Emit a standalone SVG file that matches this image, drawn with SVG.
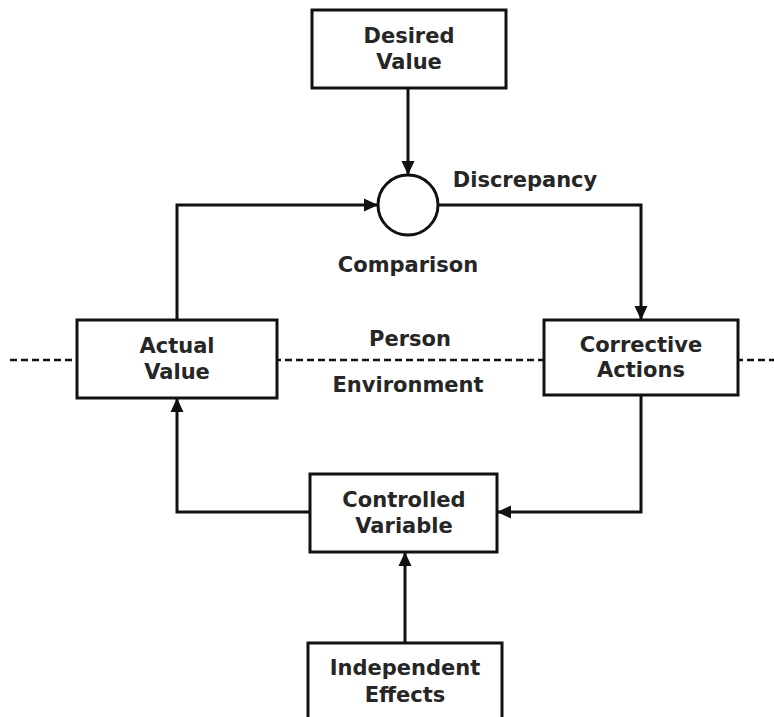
<svg xmlns="http://www.w3.org/2000/svg" width="774" height="717" viewBox="0 0 774 717">
<defs>
<marker id="ah" markerWidth="14" markerHeight="14" viewBox="0 0 14 14" refX="14" refY="7" orient="auto" markerUnits="userSpaceOnUse">
<path d="M0,0.5 L14,7 L0,13.5 Z" fill="#111"/>
</marker>
<style>
.box{fill:#fff;stroke:#111;stroke-width:3}
.t{font-family:"DejaVu Sans",Verdana,sans-serif;font-weight:bold;font-size:21px;fill:#262626;text-anchor:middle}
.c{fill:none;stroke:#111;stroke-width:3}
.d{fill:none;stroke:#111;stroke-width:2.5;stroke-dasharray:7 4}
</style>
</defs>
<rect width="774" height="717" fill="#fff"/>
<line class="d" x1="10" y1="360" x2="774" y2="360"/>
<g id="connectors">
<path class="c" d="M408,88 V175" marker-end="url(#ah)"/>
<path class="c" d="M177,320 V205 H378" marker-end="url(#ah)"/>
<path class="c" d="M438,205 H641 V320" marker-end="url(#ah)"/>
<path class="c" d="M641,395 V512 H497" marker-end="url(#ah)"/>
<path class="c" d="M310,512 H177 V398" marker-end="url(#ah)"/>
<path class="c" d="M405,643 V552" marker-end="url(#ah)"/>
</g>
<g id="desired">
<rect class="box" x="312" y="10" width="194" height="78"/>
<text class="t" x="409" y="43">Desired</text>
<text class="t" x="409" y="69">Value</text>
</g>
<g id="comparison">
<circle cx="408" cy="205" r="30" fill="#fff" stroke="#111" stroke-width="3"/>
<text class="t" x="408" y="272">Comparison</text>
</g>
<g id="discrepancy-label">
<text class="t" x="525" y="187">Discrepancy</text>
</g>
<g id="actual">
<rect class="box" x="77" y="320" width="200" height="78"/>
<text class="t" x="177" y="353">Actual</text>
<text class="t" x="177" y="379">Value</text>
</g>
<g id="corrective">
<rect class="box" x="544" y="320" width="194" height="75"/>
<text class="t" x="641" y="352">Corrective</text>
<text class="t" x="641" y="377">Actions</text>
</g>
<g id="boundary-labels">
<text class="t" x="410" y="346">Person</text>
<text class="t" x="408" y="392">Environment</text>
</g>
<g id="controlled">
<rect class="box" x="310" y="474" width="187" height="78"/>
<text class="t" x="404" y="507">Controlled</text>
<text class="t" x="404" y="533">Variable</text>
</g>
<g id="independent">
<rect class="box" x="308" y="643" width="194" height="90"/>
<text class="t" x="405" y="675">Independent</text>
<text class="t" x="405" y="702">Effects</text>
</g>
</svg>
